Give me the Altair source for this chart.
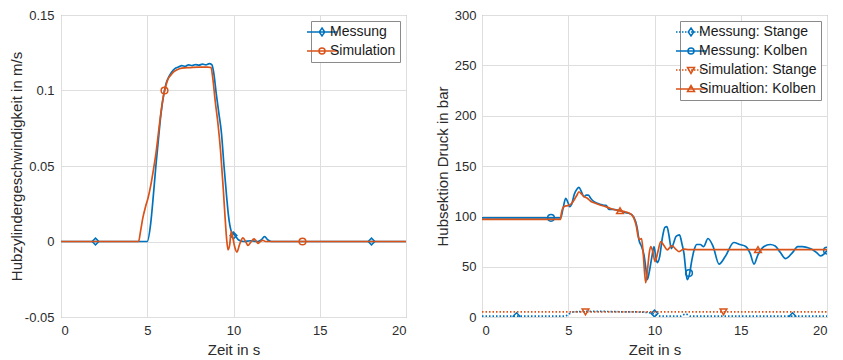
import altair as alt
import pandas as pd

BLUE = "#0072BD"
ORANGE = "#D95319"
FONT = "Liberation Sans"
TXT = "#2b2b2b"

# ---------------- left panel: velocity ----------------
T_V_MESS = [0, 5.0, 5.2, 5.35, 5.5, 5.65, 5.8, 5.95, 6.1, 6.25, 6.4, 6.6, 6.8, 7.0, 7.2, 7.4,
            7.6, 7.8, 8.0, 8.2, 8.4, 8.6, 8.75, 8.85, 9.0, 9.15, 9.3, 9.45, 9.6, 9.7, 9.8, 9.9,
            10.0, 10.15, 10.3, 10.6, 11.0, 11.4, 11.6, 11.8, 12.0, 12.2, 14.0, 20.0]
V_MESS = [0, 0, 0.012, 0.03, 0.05, 0.068, 0.085, 0.097, 0.105, 0.109, 0.112, 0.1145, 0.1155,
          0.1165, 0.116, 0.117, 0.1165, 0.1172, 0.1168, 0.1175, 0.117, 0.1178, 0.117, 0.112,
          0.098, 0.085, 0.072, 0.05, 0.03, 0.018, 0.01, 0.006, 0.005, 0.003, 0.001, 0, 0.0005,
          0, 0.001, 0.0032, 0.001, 0, 0, 0]

T_V_SIM = [0, 4.5, 4.6, 4.75, 4.9, 5.05, 5.2, 5.35, 5.5, 5.65, 5.8, 5.9, 6.0, 6.1, 6.2, 6.35,
           6.5, 6.7, 7.0, 7.5, 8.0, 8.5, 8.7, 8.8, 8.95, 9.1, 9.25, 9.4, 9.5, 9.6, 9.68, 9.78,
           9.87, 9.97, 10.08, 10.2, 10.35, 10.55, 10.7, 10.84, 11.0, 11.19, 11.3, 11.42, 11.55,
           11.7, 11.85, 12.0, 20]
V_SIM = [0, 0, 0.006, 0.016, 0.023, 0.029, 0.037, 0.047, 0.058, 0.072, 0.086, 0.094, 0.0995,
         0.104, 0.1075, 0.110, 0.112, 0.1135, 0.1148, 0.1152, 0.1155, 0.1155, 0.1152, 0.108,
         0.092, 0.078, 0.06, 0.036, 0.018, 0.002, -0.0055, -0.002, 0.0068, 0.002, -0.004,
         -0.007, -0.002, 0.0024, 0.0, -0.0026, -0.0005, 0.0017, 0.0005, -0.0013, 0, 0.0008,
         0.0, 0, 0]

MK_T_V_MESS = [2, 10, 18]
MK_V_MESS = [0, 0.004, 0]
MK_T_V_SIM = [6, 14]
MK_V_SIM = [0.1, 0]

# ---------------- right panel: pressure ----------------
T_P_MS = [0, 4.8, 5.0, 5.3, 6, 7, 8, 9, 9.8, 10.1, 10.4, 11.5, 11.8, 12.1, 20]
P_MS = [0.8, 0.8, 2.5, 5, 5.5, 5.5, 5.2, 5, 4, 2, 0.8, 0.8, 3, 0.8, 0.8]

T_P_MK = [0, 4.56, 4.7, 4.85, 5.0, 5.08, 5.2, 5.35, 5.5, 5.62, 5.75, 5.91, 6.05, 6.16, 6.3, 6.4,
          6.55, 6.68, 6.85, 7.07, 7.2, 7.36, 7.6, 7.9, 8.1, 8.33, 8.5, 8.71, 8.91, 9.0, 9.1,
          9.25, 9.39, 9.5, 9.58, 9.7, 9.85, 9.97, 10.07, 10.16, 10.3, 10.45, 10.6, 10.72, 10.85,
          10.97, 11.1, 11.25, 11.45, 11.6, 11.71, 11.82, 11.9, 12.04, 12.15, 12.3, 12.45, 12.65,
          12.85, 13.1, 13.4, 13.74, 14.1, 14.6, 14.95, 15.29, 15.55, 15.77, 16.0, 16.35, 16.7,
          17.0, 17.3, 17.6, 18.0, 18.3, 18.57, 18.85, 19.15, 19.4, 19.63, 19.85, 20]
P_MK = [98.5, 98.5, 108, 117.8, 113, 109.6, 112, 122, 127, 128.7, 125, 119.5, 121, 121, 118, 116,
        114, 112.9, 112, 111, 111, 107, 107, 106, 105, 103.6, 103, 101.3, 94.7, 88, 76.5, 70,
        61.7, 48, 37, 45, 60, 70, 60, 54, 60, 78, 89, 89.8, 80, 68, 73, 80, 81.5, 72, 63, 45, 37,
        43.6, 55, 66.7, 72, 72, 70, 78, 70, 52.5, 60, 74, 72, 70, 63, 52.5, 62, 70, 72, 70.6, 64,
        58, 64, 70, 70, 69, 67, 64, 60.7, 63, 66]

T_P_SS = [0, 20]
P_SS = [5, 5]

T_P_SK = [0, 4.55, 4.6, 4.75, 5.04, 5.2, 5.33, 5.5, 5.62, 5.75, 5.91, 6.1, 6.3, 6.57, 6.8, 7.17,
          7.5, 7.94, 8.3, 8.62, 8.81, 8.95, 9.05, 9.15, 9.25, 9.35, 9.49, 9.6, 9.7, 9.78, 9.9,
          10.03, 10.2, 10.36, 10.55, 10.74, 11.0, 11.2, 11.42, 11.7, 12.0, 20]
P_SK = [97, 97, 103, 109.6, 111, 113, 116, 121, 124.4, 122.5, 119.5, 118, 115, 113, 111.5, 109.6,
        107.5, 105.6, 104.5, 102.3, 98, 90, 80, 77, 78, 62, 34, 48, 64, 70, 65, 55, 65, 75, 71,
        66.7, 71, 68, 65, 67.5, 67, 67]

MK_T_MS = [2, 10, 18]
MK_P_MS = [0.8, 3.5, 0.8]
MK_T_MK = [4, 12, 20]
MK_P_MK = [98.5, 43.6, 66]
MK_T_SS = [6, 14]
MK_P_SS = [5, 5]
MK_T_SK = [8, 16]
MK_P_SK = [105.6, 67]

LEFT_NAMES = ["Messung", "Simulation"]
RIGHT_NAMES = ["Messung: Stange", "Messung: Kolben", "Simulation: Stange", "Simualtion: Kolben"]

# legend symbol paths (unit = sqrt(size)/2 px)
LINE_SOLID = "M-3,0L3,0"
LINE_DOT = "".join(f"M{-3 + 0.6 * i:.2f},0L{-3 + 0.6 * i + 0.3:.2f},0" for i in range(10))
DIAMOND = "M0,-0.8L0.55,0L0,0.8L-0.55,0Z"
CIRCLE = "M0.6,0A0.6,0.6,0,1,1,-0.6,0A0.6,0.6,0,1,1,0.6,0Z"
TRI_DOWN = "M-0.7,-0.5L0.7,-0.5L0,0.7Z"
TRI_UP = "M-0.7,0.5L0.7,0.5L0,-0.7Z"

X_AXIS = alt.Axis(values=[0, 5, 10, 15, 20], title="Zeit in s", labelPadding=7, titlePadding=5)
X_SCALE = alt.Scale(domain=[0, 20], nice=False, zero=False)


def xenc():
    return alt.X("t:Q", scale=X_SCALE, axis=X_AXIS)


def line_layer(ts, vs, color, yenc, dash=None):
    df = pd.DataFrame({"t": ts, "v": vs})
    kw = dict(color=color, strokeWidth=1.7, clip=True, interpolate="monotone")
    if dash:
        kw["strokeDash"] = dash
    return alt.Chart(df).mark_line(**kw).encode(x=xenc(), y=yenc())


def marker_layer(ts, vs, color, shape, yenc):
    df = pd.DataFrame({"t": ts, "v": vs})
    return alt.Chart(df).mark_point(shape=shape, color=color, size=45, strokeWidth=1.5,
                                    filled=False, opacity=1, clip=True).encode(x=xenc(), y=yenc())


def legend_layer(names, colors, paths, field, yenc):
    df = pd.DataFrame({field: names, "t": [0] * len(names), "v": [0] * len(names)})
    leg = alt.Legend(title=None)
    return (alt.Chart(df).transform_filter("false")
            .mark_point(filled=False, opacity=1, size=100, strokeWidth=1.5)
            .encode(x=xenc(), y=yenc(),
                    color=alt.Color(f"{field}:N", scale=alt.Scale(domain=names, range=colors), legend=leg),
                    shape=alt.Shape(f"{field}:N", scale=alt.Scale(domain=names, range=paths), legend=leg)))


def yv():
    return alt.Y("v:Q", scale=alt.Scale(domain=[-0.05, 0.15], nice=False, zero=False),
                 axis=alt.Axis(values=[-0.05, 0, 0.05, 0.1, 0.15],
                               labelExpr="datum.value < 0 ? '-' + format(-datum.value, '~g') : format(datum.value, '~g')",
                               title="Hubzylindergeschwindigkeit in m/s", labelPadding=7, titlePadding=0))


def yp():
    return alt.Y("v:Q", scale=alt.Scale(domain=[0, 300], nice=False, zero=False),
                 axis=alt.Axis(values=[0, 50, 100, 150, 200, 250, 300],
                               title="Hubsektion Druck in bar", labelPadding=6, titlePadding=4))


left = alt.layer(
    line_layer(T_V_MESS, V_MESS, BLUE, yv),
    marker_layer(MK_T_V_MESS, MK_V_MESS, BLUE, "diamond", yv),
    line_layer(T_V_SIM, V_SIM, ORANGE, yv),
    marker_layer(MK_T_V_SIM, MK_V_SIM, ORANGE, "circle", yv),
    legend_layer(LEFT_NAMES, [BLUE, ORANGE],
                 [LINE_SOLID + DIAMOND, LINE_SOLID + CIRCLE], "s1", yv),
).properties(width=345, height=302)

right = alt.layer(
    line_layer(T_P_MS, P_MS, BLUE, yp, dash=[1.5, 2]),
    marker_layer(MK_T_MS, MK_P_MS, BLUE, "diamond", yp),
    line_layer(T_P_MK, P_MK, BLUE, yp),
    marker_layer(MK_T_MK, MK_P_MK, BLUE, "circle", yp),
    line_layer(T_P_SS, P_SS, ORANGE, yp, dash=[1.5, 2]),
    marker_layer(MK_T_SS, MK_P_SS, ORANGE, "triangle-down", yp),
    line_layer(T_P_SK, P_SK, ORANGE, yp),
    marker_layer(MK_T_SK, MK_P_SK, ORANGE, "triangle-up", yp),
    legend_layer(RIGHT_NAMES, [BLUE, BLUE, ORANGE, ORANGE],
                 [LINE_DOT + DIAMOND, LINE_SOLID + CIRCLE, LINE_DOT + TRI_DOWN, LINE_SOLID + TRI_UP],
                 "s2", yp),
).properties(width=345, height=302)

chart = (
    alt.hconcat(left, right, spacing=27)
    .resolve_scale(color="independent", shape="independent", x="independent", y="independent")
    .resolve_legend(color="independent", shape="independent")
    .properties(padding={"left": 0, "top": 0, "right": 5, "bottom": 0})
    .configure_view(stroke="#8a8a8a", strokeWidth=1)
    .configure_axis(grid=True, gridColor="#dedede", gridWidth=1, domain=False, ticks=False, tickSize=0,
                    labelFont=FONT, labelFontSize=13, labelColor=TXT,
                    titleFont=FONT, titleFontSize=15, titleFontWeight="normal", titleColor=TXT)
    .configure_legend(orient="top-right", offset=6, padding=4, strokeColor="#8a8a8a", fillColor="white",
                      labelFont=FONT, labelFontSize=14, labelColor="#1a1a1a", symbolSize=100,
                      symbolStrokeWidth=1.5, symbolOffset=0, labelOffset=1, rowPadding=5,
                      cornerRadius=0, labelLimit=300)
)

chart.save("out.html", embed_options={"renderer": "svg", "actions": False})
